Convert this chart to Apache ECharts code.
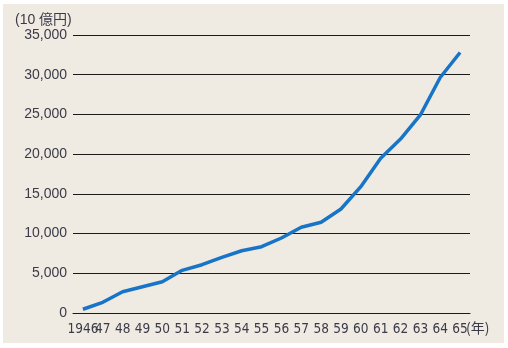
<!DOCTYPE html>
<html lang="ja">
<head>
    <meta charset="UTF-8">
    <script src="https://cdn.jsdelivr.net/npm/echarts@6/dist/echarts.min.js"></script>
    <title>推移</title>
    <style type="text/css">
        html, body { margin: 0; padding: 0; background: #ffffff; }
        #main { width: 508px; height: 348px; }
    </style>
</head>
<body>
<div id="main"></div>
<script type="text/javascript">
    // 年 (1946 -> 65)
    const years = ['1946', '47', '48', '49', '50', '51', '52', '53', '54', '55',
        '56', '57', '58', '59', '60', '61', '62', '63', '64', '65'];
    // 10億円
    const values = [470, 1350, 2680, 3310, 3940, 5370, 6080, 7010, 7840, 8350,
        9440, 10790, 11420, 13090, 15900, 19480, 21900, 24930, 29650, 32800];
    const yTicks = [0, 5000, 10000, 15000, 20000, 25000, 30000, 35000];

    const labelColor = '#3b3a48';
    const myChart = echarts.init(document.getElementById('main'));

    const option = {
        animation: false,
        backgroundColor: '#ffffff',
        graphic: [
            {
                type: 'rect', z: -10, silent: true,
                shape: { x: 3, y: 4, width: 501, height: 339 },
                style: { fill: '#efebe2' }
            },
            {
                type: 'text', left: 15, top: 13,
                style: { text: '(10 億円)', fill: labelColor, font: '14px "Liberation Sans", "Noto Sans CJK JP", sans-serif' }
            },
            {
                type: 'text', left: 466, top: 321,
                style: { text: '(年)', fill: labelColor, font: '14px "Liberation Sans Narrow", "Noto Sans CJK JP", sans-serif' }
            }
        ],
        grid: { left: 73, right: 38, top: 35, bottom: 35 },
        xAxis: {
            type: 'category',
            data: years,
            boundaryGap: true,
            axisLine: { lineStyle: { color: '#1a1a1a', width: 1 } },
            axisTick: { alignWithLabel: true, inside: true, length: 6, lineStyle: { color: '#1a1a1a' } },
            axisLabel: {
                interval: 0, margin: 9, color: labelColor,
                fontFamily: '"Liberation Sans Narrow", "DejaVu Sans Condensed", sans-serif', fontSize: 13.5
            }
        },
        yAxis: {
            type: 'value',
            min: yTicks[0],
            max: yTicks[yTicks.length - 1],
            interval: 5000,
            axisLine: { show: false },
            axisTick: { show: false },
            splitLine: { lineStyle: { color: '#1a1a1a', width: 1 } },
            axisLabel: {
                margin: 6, color: labelColor,
                fontFamily: '"Liberation Sans", sans-serif', fontSize: 14,
                formatter: function (v) { return v.toLocaleString('en-US'); }
            }
        },
        series: [{
            type: 'line',
            data: values,
            symbol: 'none',
            lineStyle: { color: '#1874c6', width: 3.5 }
        }]
    };

    myChart.setOption(option);
</script>
</body>
</html>
